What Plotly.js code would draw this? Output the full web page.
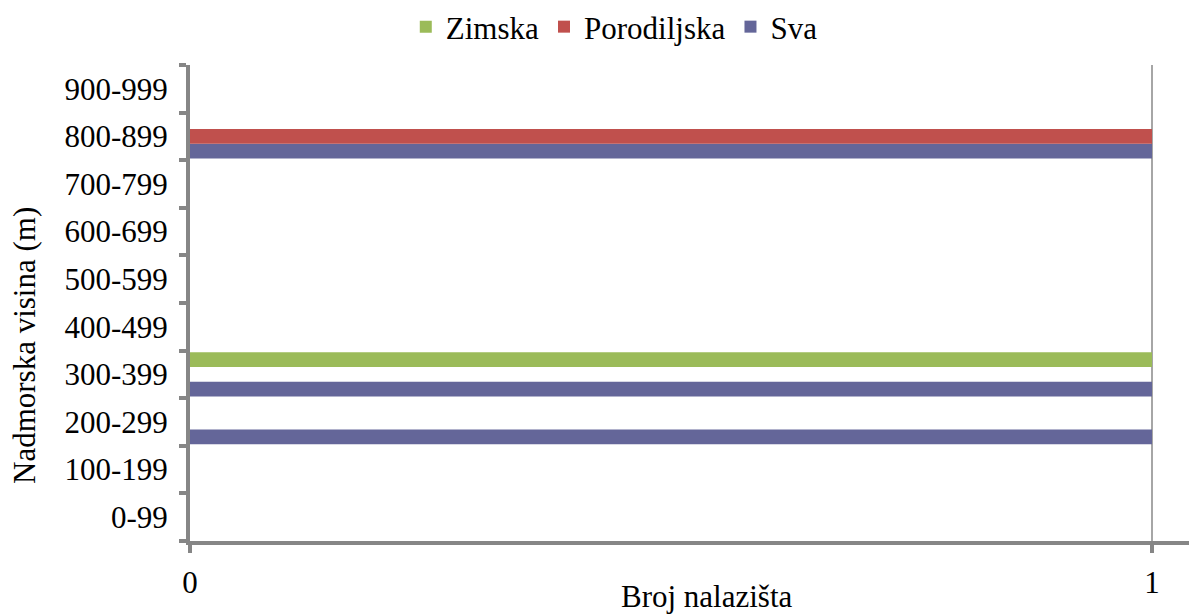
<!DOCTYPE html>
<html>
<head>
<meta charset="utf-8">
<script src="https://cdn.plot.ly/plotly-3.0.1.min.js"></script>
<style>
  html, body { margin: 0; padding: 0; background: #ffffff; }
  #chart { width: 1189px; height: 614px; }
</style>
</head>
<body>
<div id="chart"></div>
<script>
// Altitude classes (bottom to top)
const categories = ["0-99", "100-199", "200-299", "300-399", "400-499",
                    "500-599", "600-699", "700-799", "800-899", "900-999"];
// Number of sites per altitude class
const zimska      = [0, 0, 0, 1, 0, 0, 0, 0, 0, 0];
const porodiljska = [0, 0, 0, 0, 0, 0, 0, 0, 1, 0];
const sva         = [0, 0, 1, 1, 0, 0, 0, 0, 1, 0];
const seriesNames = ["Zimska", "Porodiljska", "Sva"];
const xTickVals = [0, 1];
const xTitle = "Broj nalazišta";
const yTitle = "Nadmorska visina (m)";

const FONT = "'Liberation Serif', 'Times New Roman', serif";
const FS = 31;

// Plotly stacks horizontal groups bottom-up, so traces are added Sva first
const traces = [
  { name: seriesNames[2], y: categories, x: sva, color: "#646699" },
  { name: seriesNames[1], y: categories, x: porodiljska, color: "#C0504D" },
  { name: seriesNames[0], y: categories, x: zimska, color: "#9BBB59" }
].map(t => ({
  type: "bar",
  orientation: "h",
  name: t.name,
  x: t.x,
  y: t.y,
  marker: { color: t.color, line: { width: 0 } },
  hoverinfo: "x+y+name"
}));

const layout = {
  width: 1189,
  height: 614,
  paper_bgcolor: "#ffffff",
  plot_bgcolor: "#ffffff",
  margin: { l: 190, r: 0, t: 62, b: 73 },
  barmode: "group",
  bargap: 0.07,
  bargroupgap: 0,
  font: { family: FONT, size: FS, color: "#000000" },
  showlegend: true,
  legend: {
    orientation: "h",
    traceorder: "reversed",
    x: 0.216,
    xanchor: "left",
    y: 1.08,
    yanchor: "middle",
    font: { family: FONT, size: FS, color: "#000000" },
    bgcolor: "rgba(0,0,0,0)"
  },
  xaxis: {
    range: [0, 999 / 962],
    tickmode: "array",
    tickvals: xTickVals,
    ticktext: xTickVals.map(String),
    showgrid: true,
    gridcolor: "#A6A6A6",
    gridwidth: 1.5,
    zeroline: false,
    showline: true,
    linecolor: "#868686",
    linewidth: 4,
    ticks: "outside",
    ticklen: 8,
    tickwidth: 4,
    tickcolor: "#868686",
    tickfont: { family: FONT, size: FS, color: "#000000" },
    ticklabelstandoff: 3,
    fixedrange: true
  },
  yaxis: {
    type: "category",
    categoryorder: "array",
    categoryarray: categories,
    showgrid: false,
    zeroline: false,
    showline: true,
    linecolor: "#868686",
    linewidth: 4,
    ticks: "outside",
    tickson: "boundaries",
    ticklen: 7,
    tickwidth: 4,
    tickcolor: "#868686",
    tickfont: { family: FONT, size: FS, color: "#000000" },
    ticklabelstandoff: 12,
    fixedrange: true
  },
  annotations: [
    {
      text: xTitle,
      xref: "paper", yref: "paper",
      x: 0.5175, y: -0.117,
      xanchor: "center", yanchor: "middle",
      showarrow: false,
      font: { family: FONT, size: FS, color: "#000000" }
    },
    {
      text: yTitle,
      xref: "paper", yref: "paper",
      x: -0.165, y: 0.41,
      xanchor: "center", yanchor: "middle",
      textangle: -90,
      showarrow: false,
      font: { family: FONT, size: FS, color: "#000000" }
    }
  ]
};

Plotly.newPlot("chart", traces, layout, { displayModeBar: false, staticPlot: true });
</script>
</body>
</html>
